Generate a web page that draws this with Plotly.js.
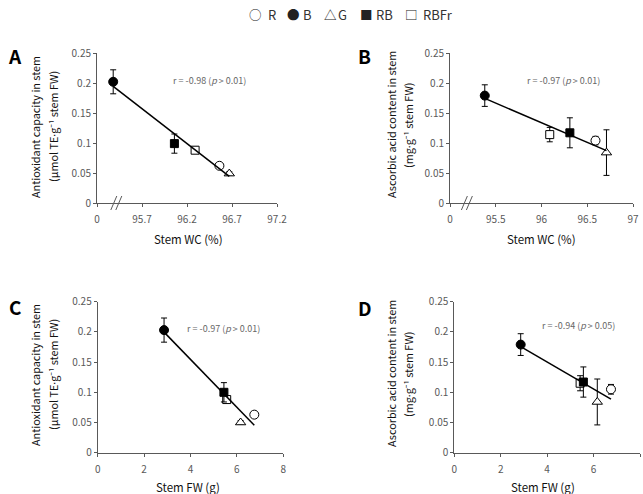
<!DOCTYPE html>
<html>
<head>
<meta charset="utf-8">
<script src="https://cdn.plot.ly/plotly-3.0.1.min.js"></script>
<style>
  html, body { margin: 0; padding: 0; background: #fff; }
  #chart { width: 643px; height: 494px; }
</style>
</head>
<body>
<div id="chart"></div>
<script>
// Light treatments, in trace order
const groups = ['R', 'B', 'G', 'RB', 'RBFr'];
const legendGlyphs = ['○', '●', '△', '■', '□'];

// Stem water content (%)
const stemWcA = [96.56, 95.38, 96.67, 96.06, 96.29];
const stemWcB = [96.59, 95.38, 96.71, 96.31, 96.09];
// Stem fresh weight (g)
const stemFwC = [6.75, 2.86, 6.16, 5.44, 5.56];
const stemFwD = [6.75, 2.86, 6.16, 5.56, 5.42];

// Antioxidant capacity in stem (µmol TE·g-1 FW) with error
const antioxA = [0.062, 0.202, 0.049, 0.099, 0.088];
const antioxErrA = [0.004, 0.020, 0.003, 0.016, 0.005];
const antioxC = [0.063, 0.203, 0.050, 0.100, 0.088];
const antioxErrC = [0.004, 0.020, 0.003, 0.016, 0.005];

// Ascorbic acid content in stem (mg·g-1 FW) with error
const ascorbB = [0.104, 0.179, 0.084, 0.117, 0.114];
const ascorbErrB = [0.007, 0.018, 0.038, 0.025, 0.012];
const ascorbD = [0.105, 0.179, 0.084, 0.117, 0.115];
const ascorbErrD = [0.008, 0.018, 0.038, 0.025, 0.0125];

// Correlation labels
const rLabels = [
  'r = -0.98 (<i>p</i> > 0.01)',
  'r = -0.97 (<i>p</i> > 0.01)',
  'r = -0.97 (<i>p</i> > 0.01)',
  'r = -0.94 (<i>p</i> > 0.05)'
];
const panelLetters = ['A', 'B', 'C', 'D'];

// Tick labels (WC axes are broken: the first tick stands for 0)
const yTickVals = [0, 0.05, 0.1, 0.15, 0.2, 0.25];
const yTickText = ['0', '0.05', '0.1', '0.15', '0.2', '0.25'];
const wcTickValsA = [95.2, 95.7, 96.2, 96.7, 97.2];
const wcTickTextA = ['0', '95.7', '96.2', '96.7', '97.2'];
const wcTickValsB = [95.0, 95.5, 96.0, 96.5, 97.0];
const wcTickTextB = ['0', '95.5', '96', '96.5', '97'];
const fwTickVals = [0, 2, 4, 6, 8];
const fwTickText = ['0', '2', '4', '6', '8'];

const W = 643, H = 494;
const px = v => v / W;
const py = v => 1 - v / H;

const FONT = '"Noto Sans CJK KR", "Noto Sans", sans-serif';
const GREY = '#595959';
// narrow middle dot for the unit strings
const DOT = '<span style="font-family:Noto Sans">·</span>';

const markerStyle = {
  R:    { symbol: 'circle',      size: 9, color: '#ffffff' },
  B:    { symbol: 'circle',      size: 9, color: '#000000' },
  G:    { symbol: 'triangle-up', size: 9, color: '#ffffff' },
  RB:   { symbol: 'square',      size: 8, color: '#000000' },
  RBFr: { symbol: 'square',      size: 8, color: '#ffffff' }
};
// open squares go under filled ones, the fitted line on top
const drawOrder = [0, 2, 4, 3, 1];

const panels = [
  { x: stemWcA, y: antioxA, err: antioxErrA, xa: 'x',  ya: 'y',
    rPos: [96.45, 0.204] },
  { x: stemWcB, y: ascorbB, err: ascorbErrB, xa: 'x2', ya: 'y2',
    rPos: [96.24, 0.204] },
  { x: stemFwC, y: antioxC, err: antioxErrC, xa: 'x3', ya: 'y3',
    rPos: [5.44, 0.206] },
  { x: stemFwD, y: ascorbD, err: ascorbErrD, xa: 'x4', ya: 'y4',
    rPos: [5.33, 0.210] }
];

function linearFit(xs, ys) {
  const n = xs.length;
  const mx = xs.reduce((a, b) => a + b, 0) / n;
  const my = ys.reduce((a, b) => a + b, 0) / n;
  let sxy = 0, sxx = 0;
  for (let i = 0; i < n; i++) {
    sxy += (xs[i] - mx) * (ys[i] - my);
    sxx += (xs[i] - mx) * (xs[i] - mx);
  }
  const slope = sxy / sxx;
  return { slope, intercept: my - slope * mx };
}

const traces = [];
panels.forEach(p => {
  drawOrder.forEach(i => {
    const g = groups[i];
    const st = markerStyle[g];
    traces.push({
      type: 'scatter', mode: 'markers', name: g, showlegend: false,
      x: [p.x[i]], y: [p.y[i]], xaxis: p.xa, yaxis: p.ya,
      error_y: { type: 'data', array: [p.err[i]], visible: true,
                 color: '#000', thickness: 1, width: 3 },
      marker: { symbol: st.symbol, size: st.size, color: st.color,
                line: { color: '#000', width: 1 } },
      cliponaxis: false, hoverinfo: 'skip'
    });
  });
  const fit = linearFit(p.x, p.y);
  const x0 = Math.min(...p.x), x1 = Math.max(...p.x);
  traces.push({
    type: 'scatter', mode: 'lines', showlegend: false,
    x: [x0, x1], y: [fit.intercept + fit.slope * x0, fit.intercept + fit.slope * x1],
    xaxis: p.xa, yaxis: p.ya,
    line: { color: '#000', width: 1.5 }, hoverinfo: 'skip'
  });
});

function xAxis(domain, range, vals, text, anchor) {
  return {
    domain, range, anchor, tickvals: vals, ticktext: text,
    showline: true, linecolor: GREY, linewidth: 1,
    ticks: 'outside', ticklen: 3, tickcolor: GREY, tickwidth: 1,
    ticklabelstandoff: 4,
    showgrid: false, zeroline: false, fixedrange: true,
    tickfont: { family: FONT, size: 10, color: GREY }
  };
}
function yAxis(domain, anchor) {
  return {
    domain, range: [0, 0.25], anchor, tickvals: yTickVals, ticktext: yTickText,
    showline: true, linecolor: GREY, linewidth: 1,
    ticks: 'outside', ticklen: 3, tickcolor: GREY, tickwidth: 1,
    showgrid: false, zeroline: false, fixedrange: true,
    tickfont: { family: FONT, size: 10, color: GREY }
  };
}

const topDomain = [py(203), py(53)];
const botDomain = [py(452.7), py(301.7)];

const annotations = [];
const txt = (x, y, text, size, color, extra) => Object.assign({
  xref: 'paper', yref: 'paper', x, y, text, showarrow: false,
  xanchor: 'center', yanchor: 'middle',
  font: { family: FONT, size, color }
}, extra || {});

// legend row
const glyphX = [255.7, 293.3, 330, 366, 411];
const labelX = [265.5, 300.5, 336.5, 374.5, 421];
groups.forEach((g, i) => {
  annotations.push(txt(px(glyphX[i]), py(14), legendGlyphs[i], 12.5, '#222'));
  annotations.push(txt(px(labelX[i]), py(14), g, 13, '#333', { xanchor: 'left' }));
});

// panel letters
const letterPos = [[15, 55], [365, 55], [15, 306], [365, 307]];
panelLetters.forEach((L, i) => {
  annotations.push(txt(px(letterPos[i][0]), py(letterPos[i][1]), '<b>' + L + '</b>', 19, '#000'));
});

// y titles (two lines each)
const yTitle1 = ['Antioxidant capacity in stem', 'Ascorbic acid content in stem'];
const yTitle2 = ['(μmol TE' + DOT + 'g⁻¹ stem FW)', '(mg' + DOT + 'g⁻¹ stem FW)'];
const yTitlePos = [[35, 53, 127, 0], [391, 408, 125, 1], [35, 53, 375, 0], [391, 408, 374, 1]];
yTitlePos.forEach(t => {
  annotations.push(txt(px(t[0]), py(t[2]), yTitle1[t[3]], 10.8, '#111', { textangle: -90 }));
  annotations.push(txt(px(t[1]), py(t[2]), yTitle2[t[3]], 10.8, '#111', { textangle: -90 }));
});

// x titles
annotations.push(txt(px(188.5), py(239), 'Stem WC (%)', 11.5, '#111'));
annotations.push(txt(px(541), py(239), 'Stem WC (%)', 11.5, '#111'));
annotations.push(txt(px(188), py(487), 'Stem FW (g)', 11.5, '#111'));
annotations.push(txt(px(543), py(487), 'Stem FW (g)', 11.5, '#111'));

// correlation labels
panels.forEach((p, i) => {
  annotations.push({
    xref: p.xa, yref: p.ya, x: p.rPos[0], y: p.rPos[1], text: rLabels[i],
    showarrow: false, xanchor: 'center', yanchor: 'middle',
    font: { family: FONT, size: 9, color: '#666' }
  });
});

// axis-break marks on the WC axes
const shapes = [];
[['x', 95.42], ['x2', 95.19]].forEach(b => {
  [-3, 2].forEach(off => {
    shapes.push({
      type: 'line', xref: b[0], yref: 'paper',
      xsizemode: 'pixel', xanchor: b[1],
      x0: off - 3, x1: off + 3, y0: py(210), y1: py(196),
      line: { color: GREY, width: 1 }
    });
  });
});

const layout = {
  width: W, height: H,
  margin: { l: 0, r: 0, t: 0, b: 0 },
  paper_bgcolor: '#fff', plot_bgcolor: 'rgba(0,0,0,0)',
  showlegend: false,
  xaxis:  xAxis([px(97), px(277)], [95.2, 97.2], wcTickValsA, wcTickTextA, 'y'),
  yaxis:  yAxis(topDomain, 'x'),
  xaxis2: xAxis([px(450), px(633)], [95.0, 97.0], wcTickValsB, wcTickTextB, 'y2'),
  yaxis2: yAxis(topDomain, 'x2'),
  xaxis3: xAxis([px(97.7), px(283.3)], [0, 8], fwTickVals, fwTickText, 'y3'),
  yaxis3: yAxis(botDomain, 'x3'),
  xaxis4: xAxis([px(454.3), px(640)], [0, 8], fwTickVals, fwTickText, 'y4'),
  yaxis4: yAxis(botDomain, 'x4'),
  annotations, shapes
};

Plotly.newPlot('chart', traces, layout, { displayModeBar: false, staticPlot: true });
</script>
</body>
</html>
